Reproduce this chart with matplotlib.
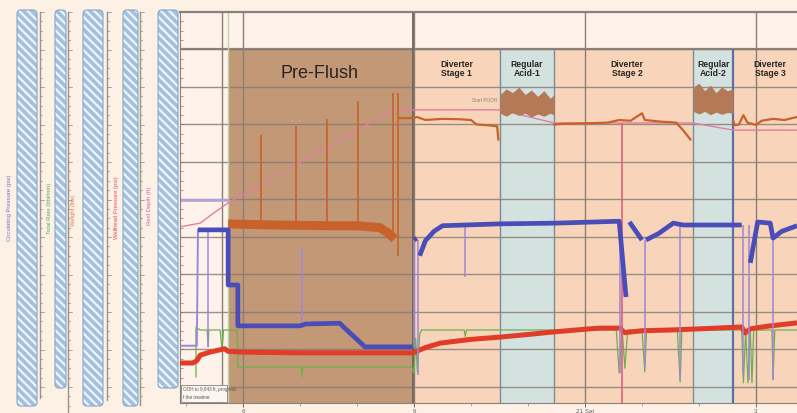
import matplotlib.pyplot as plt
from matplotlib.patches import Rectangle, FancyBboxPatch

plt.rcParams['font.family'] = ['Liberation Sans', 'DejaVu Sans']
plt.rcParams['hatch.linewidth'] = 1.6

# x: hours, y: grid cells (0 = lowest grid line)
tick_hours = [18, 21, 24, 27]
tick_labels = ['6', '9', '21 Sat', '3']

stage_names = ['Pre-Flush', 'Diverter\nStage 1', 'Regular\nAcid-1',
               'Diverter\nStage 2', 'Regular\nAcid-2', 'Diverter\nStage 3']
stage_edges = [17.74, 20.98, 22.51, 23.46, 25.9, 26.6, 27.72]
stage_label_x = [19.35, 21.75, 22.98, 24.74, 26.25, 27.25]

# circulating pressure (blue)
circ_t = [17.21, 17.74, 17.74, 17.91, 17.91, 19.0, 19.1, 19.7, 19.75, 20.14, 20.98,
          None, 21.0, 21.05, None, 21.1, 21.2, 21.35, 21.5, 22.5, 23.5, 24.6, 24.72,
          None, 24.78, 25.0, None, 25.07, 25.3, 25.55, 25.72, 26.75,
          None, 26.9, 27.03, 27.25, 27.3, 27.45, 27.72]
circ_y = [4.19, 4.19, 2.72, 2.72, 1.63, 1.63, 1.68, 1.70, 1.62, 1.07, 1.07,
          None, 3.92, 3.97, None, 3.5, 3.9, 4.15, 4.3, 4.35, 4.37, 4.42, 2.4,
          None, 4.4, 3.92, None, 3.92, 4.1, 4.37, 4.32, 4.32,
          None, 3.31, 4.4, 4.37, 3.97, 4.15, 4.3]
circ_left_t = [16.895, 17.19, 17.21]
circ_left_y = [1.10, 1.10, 4.19]
# circulating pressure drops (thin)
dip_t = [17.39, 19.035, 21.0, 21.07, 21.9, 24.62, 25.05, 25.67, 26.78, 26.88, 27.3]
dip_lo = [1.07, 1.63, 1.07, 0.32, 2.93, 0.37, 0.53, 0.19, 0.37, 0.19, 0.19]
dip_hi = [4.19, 3.73, 3.92, 3.92, 4.3, 4.4, 3.92, 4.37, 4.32, 4.32, 3.97]

# weight (orange)
weight_t = [17.74, 18.5, 19.5, 20.0, 20.4, 20.55, 20.66]
weight_y = [4.35, 4.32, 4.3, 4.3, 4.25, 4.1, 3.95]
weight2_t = [20.74, 20.98, 21.05, 21.2, 21.5, 21.8, 22.0, 22.1, 22.3, 22.46, 22.48]
weight2_y = [7.17, 7.17, 7.2, 7.12, 7.15, 7.14, 7.12, 7.0, 6.98, 6.95, 6.6]
weight3_t = [23.46, 23.6, 24.0, 24.4, 24.6, 24.8, 25.0, 25.05, 25.3, 25.6, 25.72, 25.85]
weight3_y = [7.0, 7.02, 7.03, 7.05, 7.12, 7.1, 7.3, 7.12, 7.08, 7.05, 6.85, 6.6]
weight4_t = [26.6, 26.63, 26.7, 26.78, 26.85, 27.0, 27.1, 27.3, 27.5, 27.72]
weight4_y = [7.1, 6.98, 7.0, 7.25, 7.05, 6.99, 7.1, 7.15, 7.12, 7.2]
spike_t = [18.32, 18.93, 19.47, 20.02, 20.63, 20.72]
spike_lo = [4.3, 4.3, 4.3, 4.3, 4.1, 3.5]
spike_hi = [6.72, 6.96, 7.15, 7.63, 7.84, 7.84]
acid1_t = [22.51, 22.62, 22.73, 22.84, 22.95, 23.06, 23.17, 23.28, 23.39, 23.46]
acid1_lo = [7.3, 7.22, 7.32, 7.24, 7.3, 7.2, 7.28, 7.22, 7.3, 7.25]
acid1_hi = [7.8, 7.95, 7.85, 8.0, 7.8, 7.92, 7.75, 7.9, 7.7, 7.8]
acid2_t = [25.9, 26.0, 26.1, 26.2, 26.3, 26.4, 26.5, 26.6]
acid2_lo = [7.35, 7.28, 7.35, 7.26, 7.33, 7.27, 7.32, 7.3]
acid2_hi = [8.0, 8.1, 7.9, 8.05, 7.85, 8.0, 7.9, 7.95]

# reel depth (pink)
depth_t = [16.895, 17.25, 17.45, 17.74, 20.63, 22.51, 23.46, 25.9, 26.6, 27.72]
depth_y = [4.27, 4.37, 4.6, 4.91, 7.39, 7.39, 7.04, 7.04, 6.85, 6.85]

# wellhead pressure (red)
well_t = [16.895, 17.12, 17.19, 17.25, 17.42, 17.68, 17.74, 18.0, 19.0, 20.0, 20.98,
          21.2, 21.46, 22.0, 22.51, 23.0, 23.46, 24.0, 24.26, 24.61, 24.7, 25.0,
          25.5, 26.0, 26.75, 26.81, 26.9, 27.2, 27.72]
well_y = [0.64, 0.64, 0.7, 0.85, 0.93, 1.02, 0.95, 0.93, 0.91, 0.91, 0.91,
          1.05, 1.17, 1.27, 1.33, 1.4, 1.47, 1.54, 1.57, 1.57, 1.45, 1.5,
          1.52, 1.55, 1.6, 1.44, 1.55, 1.62, 1.71]

# total rate (green)
rate_t = [17.175, 17.175, 17.245, 17.37, 17.39, 17.4, 17.6, 17.63, 17.66, 17.9, 17.91,
          19.02, 19.035, 19.05, 20.96, 21.0, 21.03, 21.06, 21.1, 21.13, 21.88, 21.9,
          21.92, 24.55, 24.6, 24.65, 24.7, 24.75, 25.0, 25.05, 25.08, 25.62, 25.67,
          25.7, 26.75, 26.78, 26.82, 26.86, 26.9, 26.93, 26.96, 27.28, 27.3, 27.33, 27.72]
rate_y = [0.27, 1.6, 1.52, 1.52, 1.07, 1.52, 1.52, 1.0, 1.52, 1.52, 0.53,
          0.53, 0.27, 0.53, 0.53, 0.37, 1.3, 0.4, 1.4, 1.52, 1.52, 1.35,
          1.52, 1.52, 0.37, 1.6, 0.5, 1.52, 1.52, 0.4, 1.52, 1.52, 0.13,
          1.52, 1.52, 0.11, 1.52, 0.11, 1.52, 0.11, 1.52, 1.52, 0.19, 1.52, 1.52]

# left-hand track labels
track_labels = ['Circulating Pressure (psi)', 'Total Rate (bbl/min)', 'Weight (lbs)',
                'Wellhead Pressure (psi)', 'Reel Depth (ft)']
track_colors = ['#7A6BC8', '#5DAA48', '#D9824A', '#E0505A', '#D060B0']


def nan(v):
    return [float('nan') if x is None else x for x in v]


fig = plt.figure(figsize=(7.97, 4.13), dpi=100, facecolor='#FDF1E6')

# left panel drawn in pixel coordinates
bg = fig.add_axes([0, 0, 1, 1])
bg.set_xlim(0, 797)
bg.set_ylim(413, 0)
bg.axis('off')

bars = [(17, 37, 10, 406), (55, 66, 10, 388), (83, 103, 10, 406),
        (123, 138, 10, 406), (158, 178, 10, 388)]
for x0, x1, y0, y1 in bars:
    bg.add_patch(FancyBboxPatch((x0, y0), x1 - x0, y1 - y0,
                                boxstyle='round,pad=0,rounding_size=4',
                                facecolor='#A3C0DE', edgecolor='#F0F5FA', lw=0,
                                hatch='\\\\\\\\'))
    bg.add_patch(FancyBboxPatch((x0, y0), x1 - x0, y1 - y0,
                                boxstyle='round,pad=0,rounding_size=4',
                                fill=False, edgecolor='#86A6C8', lw=0.8))

axis_lines = [(40, 12, 398), (68, 12, 412), (107, 12, 400), (140, 12, 405)]
for x, y0, y1 in axis_lines:
    bg.plot([x, x], [y0, y1], color='#9A928C', lw=1.0)
    k = 0
    y = 12.0
    while y < y1:
        ln = 4 if k % 4 == 0 else 2.5
        bg.plot([x, x + ln], [y, y], color='#8C8580', lw=0.5)
        y += 9.375
        k += 1

label_pos = [(10, 208), (50, 208), (74, 210), (117, 208), (150, 206)]
for (x, y), txt, c in zip(label_pos, track_labels, track_colors):
    bg.text(x, y, txt, rotation=90, ha='center', va='center', fontsize=4.2, color=c)

# main chart
ax = fig.add_axes([180 / 797, 10 / 413, 617 / 797, 391 / 413])
ax.set_facecolor('#FDF3EA')
ax.set_xlim(16.895, 27.72)
ax.set_ylim(-0.427, 10)

stage_colors = ['#C39877', '#F8D5BA', '#D3E2DF', '#F8D5BA', '#D3E2DF', '#F8D5BA']
for i, c in enumerate(stage_colors):
    ax.add_patch(Rectangle((stage_edges[i], -0.427), stage_edges[i + 1] - stage_edges[i],
                           9.427, facecolor=c, edgecolor='none', zorder=0.5))

ax.hlines(range(0, 10), 16.895, 27.72, color='#85786F', lw=1.0, alpha=0.8, zorder=1)
ax.hlines(9, 16.895, 27.72, color='#85786F', lw=1.6, alpha=0.9, zorder=1)
for x in [17.63] + tick_hours:
    ax.axvline(x, color='#8A7F78', lw=1.0, zorder=1)
ax.axvline(17.74, color='#B8D8A8', lw=1.0, zorder=1)
ax.axvline(20.98, color='#6E6258', lw=1.3, zorder=1)
ax.vlines([22.51, 23.46, 25.9], -0.427, 9, color='#7A8C9A', lw=1.0, zorder=1)
ax.vlines(26.6, -0.427, 9, color='#5A70A8', lw=1.6, zorder=1)

# traces
ax.plot(depth_t, depth_y, color='#E07FA0', lw=1.0, zorder=2)
ax.plot([16.895, 17.74], [4.99, 4.99], color='#B6A3D8', lw=2.0, zorder=2)
ax.plot(rate_t, rate_y, color='#6FAE4E', lw=0.9, zorder=2)
ax.plot(well_t, well_y, color='#E03C28', lw=3.6, zorder=3, solid_capstyle='butt')
ax.vlines(24.65, -0.427, 7.04, color='#E0607A', lw=1.2, zorder=3)
ax.vlines(dip_t, dip_lo, dip_hi, color='#9C88D8', lw=1.1, zorder=3)
ax.plot(circ_left_t, circ_left_y, color='#9C88D8', lw=1.4, zorder=3)
ax.plot(circ_t, nan(circ_y), color='#4A4DB8', lw=3.4, zorder=4, solid_capstyle='butt')

ax.vlines(spike_t, spike_lo, spike_hi, color='#C8622A', lw=1.2, zorder=3)
ax.plot(weight_t, weight_y, color='#C8622A', lw=6.5, zorder=3, solid_capstyle='butt')
for t, y in [(weight2_t, weight2_y), (weight3_t, weight3_y), (weight4_t, weight4_y)]:
    ax.plot(t, y, color='#C8622A', lw=1.6, zorder=3)
ax.fill_between(acid1_t, acid1_lo, acid1_hi, color='#B47A58', lw=0, zorder=3)
ax.fill_between(acid2_t, acid2_lo, acid2_hi, color='#B47A58', lw=0, zorder=3)

# stage captions
ax.text(stage_label_x[0], 8.37, stage_names[0], ha='center', va='center',
        fontsize=13, color='#2A2420', zorder=5)
for x, name in zip(stage_label_x[1:], stage_names[1:]):
    ax.text(x, 8.48, name, ha='center', va='center', fontsize=6.2,
            fontweight='bold', color='#2A2420', linespacing=1.05, zorder=5)
ax.text(22.45, 7.63, 'Start POOH', ha='right', va='center', fontsize=3.3,
        color='#8A7A70', zorder=5)

# comment box bottom-left
ax.add_patch(Rectangle((16.92, -0.4), 0.8, 0.44, facecolor='#FBF6F0',
                       edgecolor='#8A807A', lw=0.6, zorder=5))
ax.text(16.94, -0.07, 'OOH to 9,643 ft, progress', fontsize=3.3, color='#555',
        va='center', zorder=6)
ax.text(16.94, -0.27, 'f the treatme', fontsize=3.3, color='#555', va='center', zorder=6)

# axes frame and ticks
for s in ['top', 'left', 'bottom']:
    ax.spines[s].set_color('#8A807A')
ax.spines['top'].set_linewidth(1.6)
ax.spines['right'].set_visible(False)
ax.set_yticks([i * 0.25 for i in range(0, 40)])
ax.tick_params(axis='y', direction='in', length=2, width=0.5, colors='#777',
               labelleft=False)
ax.set_xticks(tick_hours)
ax.set_xticklabels(tick_labels)
ax.set_xticks([h for h in range(17, 28) if h not in tick_hours], minor=True)
ax.tick_params(axis='x', which='major', length=3, width=0.7, colors='#666',
               labelsize=4.5, pad=1)
ax.tick_params(axis='x', which='minor', length=2, width=0.5, colors='#888')

fig.savefig('out.png', dpi=100, facecolor=fig.get_facecolor())
